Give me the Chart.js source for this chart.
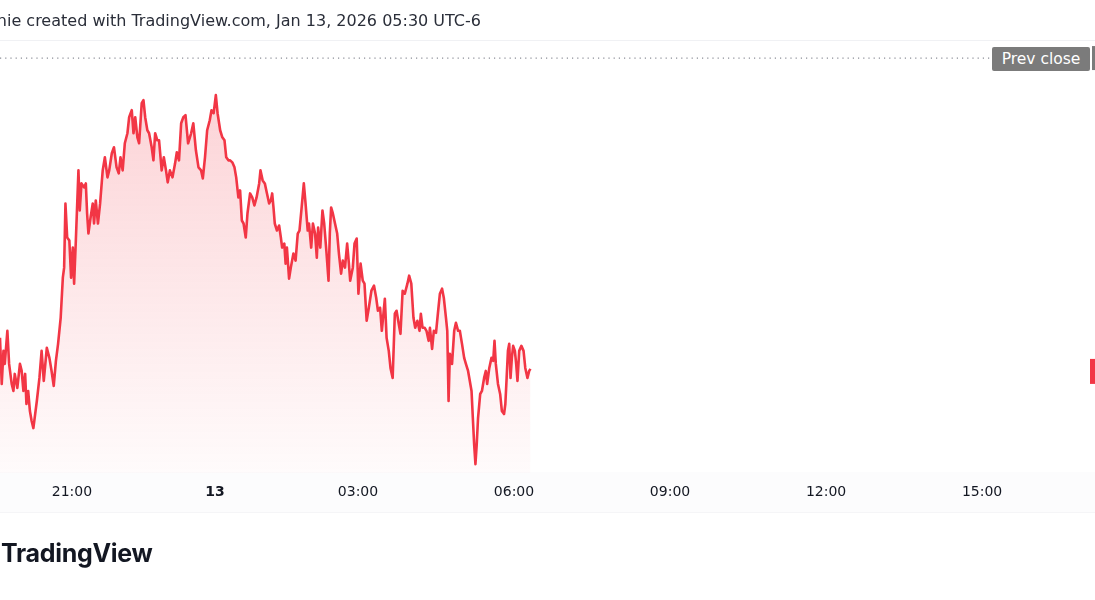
<!DOCTYPE html>
<html>
<head>
<meta charset="utf-8">
<script src="https://cdn.jsdelivr.net/npm/chart.js@4.4.1/dist/chart.umd.min.js"></script>
<style>
  html, body { margin: 0; padding: 0; background: #ffffff; }
  body { width: 1095px; height: 600px; position: relative; overflow: hidden; font-family: "DejaVu Sans", sans-serif; }
  #header { position: absolute; top: 11px; right: 614px; white-space: nowrap; font-size: 16px; color: #2a2e39; }
  #topline { position: absolute; left: 0; top: 40px; width: 1095px; height: 1px; background: #f0f1f4; }
  #axisband { position: absolute; left: 0; top: 472px; width: 1095px; height: 40px; background: #fcfcfd; border-bottom: 1px solid #f5f5f7; }
  #prevclose { position: absolute; left: 992px; top: 47px; width: 98px; height: 24px; line-height: 24px; background: #7b7b7b; color: #ffffff; font-size: 15.5px; text-align: center; border-radius: 2px; }
  #logo { position: absolute; top: 538px; left: 1px; white-space: nowrap; font-family: "Inter", sans-serif; font-weight: 700; font-size: 25px; color: #131722; letter-spacing: -0.3px; }
  #chart { position: absolute; left: 0; top: 0; }
</style>
</head>
<body>
<div id="axisband"></div>
<div id="topline"></div>
<canvas id="chart" width="1095" height="600"></canvas>
<div id="header">nie created with TradingView.com, Jan 13, 2026 05:30 UTC-6</div>
<div id="prevclose">Prev close</div>
<div id="logo">TradingView</div>
<script>
// time axis counted in 5-minute bars, 0 = 21:00 on Jan 12
const tickBars = [0, 33, 66, 102, 138, 174, 210];
const tickLabels = ['21:00', '13', '03:00', '06:00', '09:00', '12:00', '15:00'];

const barIndex = [
  -16.6, -16.2, -15.8, -15.5, -14.9, -14.5, -13.9, -13.5, -13.2, -12.6, -12.0, -11.6, -11.2, -10.8, -10.5, -10.1, -9.7, -9.3, -8.9, -8.1,
  -7.5, -7.0, -6.5, -5.8, -5.2, -4.7, -4.2, -3.7, -3.2, -2.6, -2.1, -1.8, -1.5, -1.1, -0.6, -0.2, 0.2, 0.5, 0.9, 1.5,
  1.8, 2.2, 2.8, 3.2, 3.5, 3.8, 4.3, 4.8, 5.1, 5.5, 6.0, 6.5, 7.1, 7.6, 8.2, 8.6, 9.2, 9.7, 10.3, 10.8,
  11.2, 11.7, 12.2, 12.8, 13.2, 13.8, 14.2, 14.6, 15.1, 15.5, 16.1, 16.5, 16.9, 17.4, 17.8, 18.4, 18.8, 19.2, 19.7, 20.1,
  20.7, 21.2, 21.7, 22.1, 22.6, 23.2, 23.8, 24.2, 24.7, 25.2, 25.7, 26.2, 26.8, 27.5, 28.0, 28.6, 29.2, 29.8, 30.2, 30.7,
  31.2, 31.8, 32.2, 32.7, 33.2, 33.6, 34.2, 34.7, 35.2, 35.6, 36.1, 36.5, 37.0, 37.5, 37.9, 38.4, 38.8, 39.2, 39.6, 40.1,
  40.5, 41.1, 41.6, 42.1, 42.6, 43.2, 43.5, 44.0, 44.5, 45.0, 45.5, 45.9, 46.2, 46.5, 46.8, 47.3, 47.8, 48.2, 48.5, 49.0,
  49.3, 49.6, 50.1, 50.5, 51.1, 51.6, 52.1, 52.5, 53.0, 53.5, 53.9, 54.4, 54.7, 55.2, 55.6, 56.1, 56.5, 56.8, 57.3, 57.8,
  58.2, 58.7, 59.2, 59.5, 59.8, 60.2, 60.7, 61.2, 61.6, 62.1, 62.5, 63.0, 63.5, 63.9, 64.2, 64.8, 65.2, 65.7, 66.1, 66.6,
  67.1, 67.5, 68.0, 68.5, 69.1, 69.7, 70.2, 70.6, 71.1, 71.5, 72.2, 72.6, 73.1, 73.5, 74.0, 74.5, 74.9, 75.4, 75.8, 76.3,
  76.8, 77.4, 77.8, 78.3, 78.8, 79.2, 79.7, 80.2, 80.5, 80.9, 81.4, 81.8, 82.3, 82.6, 83.1, 83.5, 84.0, 84.5, 84.9, 85.4,
  85.8, 86.3, 86.6, 86.9, 87.2, 87.7, 88.2, 88.6, 89.1, 89.5, 90.0, 90.5, 90.9, 91.4, 91.8, 92.2, 92.5, 92.8, 93.1, 93.4,
  93.7, 94.2, 94.6, 95.1, 95.5, 95.8, 96.3, 96.8, 97.2, 97.5, 97.8, 98.3, 98.8, 99.2, 99.7, 100.0, 100.3, 100.6, 100.9, 101.2,
  101.5, 101.8, 102.2, 102.5, 102.8, 103.2, 103.7, 104.2, 104.6, 105.1, 105.5, 105.8
];

const prices = [
  13.5, 8.9, 12.2, 10.9, 14.2, 10.9, 8.9, 8.2, 9.9, 8.5, 10.9, 10.2, 8.2, 9.9, 6.9, 8.2, 6.2, 5.2, 4.5, 7.2,
  9.5, 12.2, 9.2, 12.5, 11.5, 10.2, 8.7, 11.2, 12.9, 15.5, 19.5, 20.5, 26.9, 23.5, 23.2, 19.5, 22.5, 18.9, 23.2, 30.2,
  26.2, 28.9, 28.5, 28.9, 25.9, 23.9, 25.5, 26.9, 24.9, 27.2, 24.9, 26.9, 30.2, 31.5, 29.5, 30.2, 31.9, 32.5, 30.5, 29.9,
  31.5, 30.2, 32.9, 33.9, 35.5, 36.2, 33.9, 35.5, 33.5, 32.9, 36.9, 37.2, 35.5, 34.2, 33.9, 32.5, 31.2, 33.9, 33.2, 33.2,
  30.2, 31.5, 30.2, 29.0, 30.2, 29.5, 30.9, 32.0, 31.2, 34.9, 35.5, 35.7, 32.9, 33.9, 34.9, 32.2, 30.5, 30.2, 29.4, 31.5,
  34.2, 35.2, 36.2, 35.9, 37.7, 35.9, 34.2, 33.5, 33.2, 31.5, 31.2, 31.2, 31.0, 30.5, 29.5, 27.5, 28.2, 25.2, 24.9, 23.5,
  25.9, 27.9, 27.5, 26.7, 27.5, 28.9, 30.2, 29.2, 28.9, 27.9, 26.9, 27.2, 27.9, 26.5, 24.9, 24.2, 24.7, 23.5, 22.5, 22.9,
  20.9, 22.5, 19.4, 20.5, 21.9, 21.2, 23.9, 24.2, 26.5, 28.9, 26.9, 24.2, 24.9, 22.5, 24.9, 23.9, 21.5, 24.5, 22.5, 26.2,
  24.9, 22.2, 19.2, 23.9, 26.5, 25.9, 24.9, 23.9, 21.9, 19.9, 21.2, 20.5, 22.9, 20.9, 19.2, 20.5, 22.9, 23.4, 17.9, 20.9,
  19.2, 18.9, 15.2, 16.5, 18.2, 18.7, 17.5, 16.2, 16.5, 14.2, 17.4, 13.5, 12.2, 10.5, 9.5, 15.9, 16.2, 14.9, 13.9, 18.2,
  17.9, 18.9, 19.7, 18.9, 15.5, 14.5, 15.2, 14.2, 15.9, 14.5, 14.5, 14.2, 13.2, 14.5, 12.4, 14.2, 14.0, 16.2, 17.9, 18.4,
  17.5, 15.5, 14.2, 7.2, 11.9, 10.9, 14.2, 15.0, 14.2, 14.2, 12.9, 11.5, 10.9, 10.2, 9.2, 8.2, 5.5, 2.9, 0.9, 2.9,
  5.5, 7.9, 8.2, 9.5, 10.2, 8.9, 10.5, 11.5, 11.2, 13.2, 10.9, 8.9, 7.9, 6.2, 5.9, 6.9, 9.5, 12.2, 12.9, 9.5,
  11.5, 12.7, 12.2, 10.9, 9.2, 12.2, 12.7, 12.2, 10.5, 9.5, 10.2, 10.4
];

const prevClose = 41.4;

const xMin = -16.6, xMax = 234.9;
const yMin = 0, yMax = 43.2;

const lineColor = '#F23645';

const points = barIndex.map((b, i) => ({ x: b, y: prices[i] }));

// labels on the (cropped) price scale at the right edge
const priceScaleLabels = {
  id: 'priceScaleLabels',
  afterDraw(chart) {
    const c = chart.ctx;
    const y = chart.scales.y;
    const right = chart.chartArea.right;
    const lastY = y.getPixelForValue(prices[prices.length - 1]);
    const pcY = y.getPixelForValue(prevClose);
    c.save();
    c.fillStyle = lineColor;
    c.fillRect(right, lastY - 10, 10, 25);
    c.fillStyle = '#7b7b7b';
    c.fillRect(right + 2, pcY - 12, 10, 24);
    c.restore();
  }
};

new Chart(document.getElementById('chart'), {
  type: 'line',
  data: {
    datasets: [{
      data: points,
      borderColor: lineColor,
      borderWidth: 2.6,
      borderJoinStyle: 'round',
      pointRadius: 0,
      tension: 0,
      fill: 'start',
      backgroundColor: (ctx) => {
        const area = ctx.chart.chartArea;
        if (!area) return 'rgba(242,54,69,0.1)';
        const g = ctx.chart.ctx.createLinearGradient(0, area.top + 50, 0, area.bottom);
        g.addColorStop(0, 'rgba(242,54,69,0.22)');
        g.addColorStop(1, 'rgba(242,54,69,0.02)');
        return g;
      }
    }, {
      data: [{ x: xMin, y: prevClose }, { x: xMax, y: prevClose }],
      borderColor: '#8a8d96',
      borderWidth: 1.2,
      borderDash: [1.2, 4],
      pointRadius: 0,
      fill: false
    }]
  },
  options: {
    responsive: false,
    animation: false,
    maintainAspectRatio: false,
    layout: { padding: { left: 0, right: 5, top: 40, bottom: 88 } },
    plugins: { legend: { display: false }, tooltip: { enabled: false } },
    scales: {
      x: {
        type: 'linear',
        min: xMin,
        max: xMax,
        grid: { display: false, drawTicks: false },
        border: { display: false },
        afterBuildTicks: (scale) => { scale.ticks = tickBars.map(v => ({ value: v })); },
        ticks: {
          autoSkip: false,
          maxRotation: 0,
          padding: 11,
          color: '#131722',
          font: (ctx) => ({
            family: 'DejaVu Sans',
            size: 14,
            weight: ctx.tick && tickLabels[tickBars.indexOf(ctx.tick.value)] === '13' ? 'bold' : 'normal'
          }),
          callback: (value) => tickLabels[tickBars.indexOf(value)]
        }
      },
      y: {
        display: false,
        min: yMin,
        max: yMax
      }
    }
  },
  plugins: [priceScaleLabels]
});
</script>
</body>
</html>
